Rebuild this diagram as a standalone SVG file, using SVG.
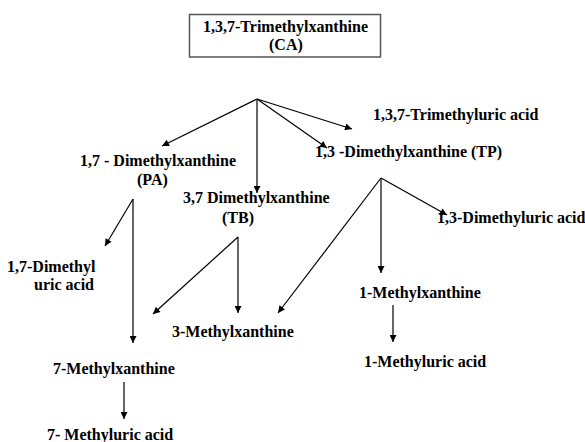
<svg xmlns="http://www.w3.org/2000/svg" width="585" height="442" viewBox="0 0 585 442">
<defs>
<marker id="ah" viewBox="0 0 10 10" refX="10" refY="5" markerWidth="9" markerHeight="7" markerUnits="userSpaceOnUse" orient="auto">
<path d="M0,0 L10,5 L0,10 z" fill="#000"/>
</marker>
<style>
text{font-family:"Liberation Serif","Times New Roman",serif;font-weight:bold;font-size:16px;fill:#000}
.c line{stroke:#000;stroke-width:1.2;fill:none}
.a{marker-end:url(#ah)}
</style>
</defs>
<rect width="585" height="442" fill="#fff"/>
<g id="CA">
<rect x="189.5" y="14.5" width="191" height="42.5" fill="#fff" stroke="#555" stroke-width="1.5"/>
<text x="203" y="32">1,3,7-Trimethylxanthine</text>
<text x="269" y="50">(CA)</text>
</g>
<g id="TMU"><text x="373" y="120">1,3,7-Trimethyluric acid</text></g>
<g id="PA"><text x="80" y="166">1,7 - Dimethylxanthine</text><text x="137" y="185">(PA)</text></g>
<g id="TP"><text x="315" y="157">1,3 -Dimethylxanthine (TP)</text></g>
<g id="TB"><text x="183" y="203">3,7 Dimethylxanthine</text><text x="222" y="223">(TB)</text></g>
<g id="DMU13"><text x="437" y="223">1,3-Dimethyluric acid</text></g>
<g id="DMU17"><text x="7" y="272">1,7-Dimethyl</text><text x="34" y="290">uric acid</text></g>
<g id="MX1"><text x="359" y="298">1-Methylxanthine</text></g>
<g id="MX3"><text x="172" y="337">3-Methylxanthine</text></g>
<g id="MU1"><text x="364" y="367">1-Methyluric acid</text></g>
<g id="MX7"><text x="53" y="374">7-Methylxanthine</text></g>
<g id="MU7"><text x="47" y="440">7- Methyluric acid</text></g>
<g id="connectors" class="c">
<line class="a" x1="257" y1="99" x2="162" y2="146"/>
<line class="a" x1="257" y1="99" x2="257" y2="193"/>
<line class="a" x1="257" y1="99" x2="327" y2="148"/>
<line class="a" x1="257" y1="99" x2="352" y2="129"/>
<line class="a" x1="133" y1="199" x2="105" y2="246"/>
<line class="a" x1="133" y1="199" x2="133" y2="343"/>
<line class="a" x1="238" y1="237" x2="153" y2="314"/>
<line class="a" x1="238" y1="237" x2="238" y2="313"/>
<line class="a" x1="381" y1="178" x2="447" y2="215"/>
<line class="a" x1="381" y1="178" x2="381" y2="273"/>
<line class="a" x1="381" y1="178" x2="278" y2="313"/>
<line class="a" x1="124" y1="382" x2="124" y2="419"/>
<line class="a" x1="393" y1="305" x2="393" y2="342"/>
</g>
</svg>
